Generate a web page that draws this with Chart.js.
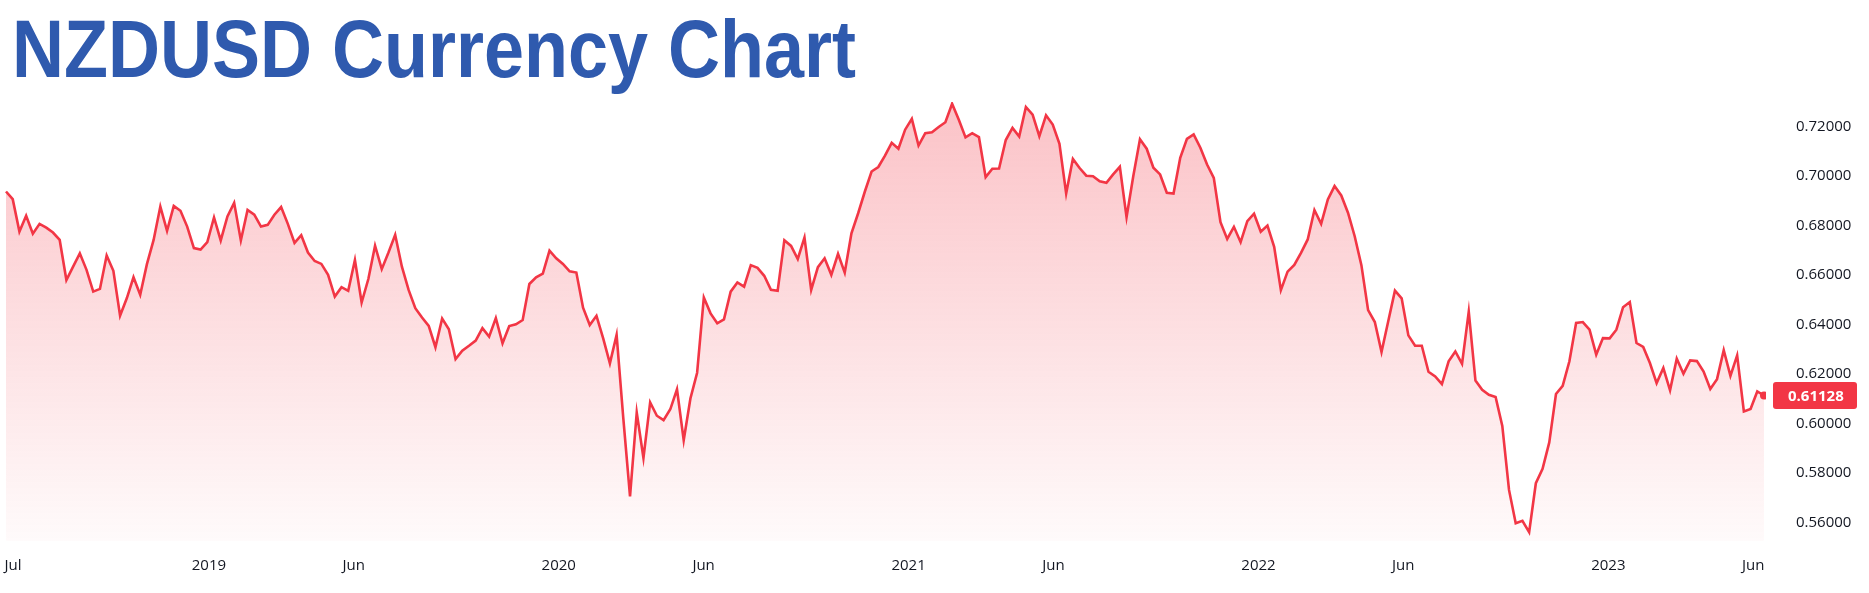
<!DOCTYPE html>
<html><head><meta charset="utf-8">
<script src="https://cdn.jsdelivr.net/npm/chart.js@4/dist/chart.umd.min.js"></script>
<style>
html,body{margin:0;padding:0;background:#fff;width:1869px;height:593px;overflow:hidden}
#title{position:absolute;left:12px;top:1px;font-family:"Liberation Sans",Arial,sans-serif;font-weight:bold;color:#2f5aae;font-size:82px;line-height:96px;white-space:nowrap;transform-origin:0 0;z-index:2}
#wrap{position:absolute;left:0;top:0;width:1869px;height:593px}
</style></head><body>
<div id="title">NZDUSD Currency Chart</div>
<div id="wrap"><canvas id="c"></canvas></div>
<script>
const seriesName = "NZDUSD";
const prices = [
0.6938,0.6907,0.6776,0.6840,0.6767,0.6807,0.6792,0.6772,0.6742,0.6580,0.6634,0.6688,0.6621,0.6533,0.6544,0.6679,0.6617,0.6436,0.6506,0.6591,
0.6520,0.6644,0.6742,0.6877,0.6779,0.6880,0.6860,0.6796,0.6709,0.6703,0.6733,0.6833,0.6740,0.6837,0.6892,0.6740,0.6863,0.6844,0.6796,0.6803,
0.6844,0.6875,0.6807,0.6730,0.6761,0.6691,0.6657,0.6645,0.6601,0.6513,0.6551,0.6536,0.6661,0.6489,0.6584,0.6719,0.6624,0.6691,0.6763,0.6634,
0.6540,0.6466,0.6428,0.6394,0.6308,0.6424,0.6381,0.6260,0.6294,0.6314,0.6335,0.6385,0.6351,0.6426,0.6324,0.6394,
0.6401,0.6418,0.6564,0.6591,0.6606,0.6699,0.6668,0.6645,0.6615,0.6610,0.6468,0.6398,0.6435,0.6344,0.6243,0.6358,0.6020,0.5705,0.6044,0.5860,
0.6085,0.6031,0.6013,0.6057,0.6138,0.5932,0.6101,0.6205,0.6509,0.6445,0.6405,0.6421,0.6533,0.6570,0.6553,0.6640,0.6629,0.6597,0.6540,0.6536,
0.6741,0.6718,0.6665,0.6752,0.6540,0.6632,0.6668,0.6601,0.6686,0.6610,0.6769,0.6850,0.6938,0.7019,0.7037,0.7083,0.7135,0.7111,0.7188,0.7232,
0.7124,0.7174,0.7178,0.7199,0.7218,0.7293,0.7228,0.7157,0.7174,0.7158,0.6996,0.7030,
0.7031,0.7146,0.7195,0.7160,0.7280,0.7249,0.7162,0.7246,0.7209,0.7131,0.6930,0.7070,0.7033,0.7002,0.7000,0.6979,0.6973,0.7007,0.7038,0.6834,
0.7000,0.7149,0.7111,0.7034,0.7007,0.6933,0.6930,0.7074,0.7151,0.7169,0.7115,0.7047,0.6993,0.6814,0.6746,0.6795,0.6733,0.6818,0.6848,0.6775,
0.6800,0.6714,0.6539,0.6614,0.6641,0.6690,0.6744,0.6863,0.6807,0.6906,0.6960,0.6922,0.6852,0.6757,0.6640,0.6458,0.6410,0.6289,0.6413,0.6537,
0.6506,0.6356,0.6314,0.6314,0.6209,
0.6190,0.6159,0.6251,0.6291,0.6241,0.6452,0.6173,0.6136,0.6116,0.6107,0.5990,0.5731,0.5596,0.5606,0.5560,0.5758,0.5816,0.5923,0.6119,0.6152,
0.6251,0.6406,0.6410,0.6379,0.6278,0.6345,0.6344,0.6379,0.6470,0.6491,0.6325,0.6309,0.6244,0.6163,0.6224,0.6134,0.6262,0.6201,0.6255,0.6252,
0.6210,0.6139,0.6179,0.6296,0.6192,0.6275,0.6048,0.6058,0.6129,0.61128
];
const startYear = 2018.42, endYear = 2023.445;
const xTickYears = [2018.44, 2019.0, 2019.414, 2020.0, 2020.414, 2021.0, 2021.414, 2022.0, 2022.414, 2023.0, 2023.414];
const xTickLabels = ["Jul","2019","Jun","2020","Jun","2021","Jun","2022","Jun","2023","Jun"];
const yTicks = [0.56,0.58,0.60,0.62,0.64,0.66,0.68,0.70,0.72];
const fillBase = 0.5525;

const n = prices.length;
const toIdx = yr => (yr - startYear) / (endYear - startYear) * (n - 1);
const data = prices.map((v,i)=>({x:i,y:v}));
const RED = '#f23645';

const t = document.getElementById('title');
const w = t.getBoundingClientRect().width;
t.style.transform = 'scaleX(' + (844 / w) + ')';

const badge = {
  id:'badge',
  afterDatasetsDraw(chart){
    const {ctx, scales:{y}} = chart;
    const v = prices[n-1];
    const py = y.getPixelForValue(v);
    ctx.save();
    ctx.fillStyle = RED;
    const bx = 1773, bw = 84, bh = 27;
    ctx.beginPath();
    ctx.roundRect(bx, py - bh/2, bw, bh, 3);
    ctx.fill();
    ctx.fillStyle = '#fff';
    ctx.font = 'bold 15px "Open Sans", sans-serif';
    ctx.textBaseline = 'middle';
    ctx.textAlign = 'left';
    ctx.fillText(v.toFixed(5), 1788, py + 1);
    ctx.restore();
  }
};

new Chart(document.getElementById('c'), {
  type:'line',
  data:{datasets:[{
    label: seriesName,
    data,
    borderColor: RED,
    borderWidth: 2.6,
    tension: 0,
    pointRadius: ctx => ctx.dataIndex === n-1 ? 4 : 0,
    pointBackgroundColor: RED,
    pointBorderWidth: 0,
    fill: {value: fillBase},
    backgroundColor: ctx => {
      const ca = ctx.chart.chartArea;
      if (!ca) return 'rgba(242,54,69,0.15)';
      const g = ctx.chart.ctx.createLinearGradient(0, ca.top, 0, ca.bottom);
      g.addColorStop(0, 'rgba(242,54,69,0.30)');
      g.addColorStop(1, 'rgba(242,54,69,0.02)');
      return g;
    }
  }]},
  options:{
    responsive:true, maintainAspectRatio:false, animation:false,
    layout:{padding:{left:0,right:0,top:102,bottom:0}},
    plugins:{legend:{display:false},tooltip:{enabled:false}},
    scales:{
      x:{type:'linear', min:-0.3, max:n-1+0.3,
        grid:{display:false}, border:{display:false},
        afterBuildTicks: s => { s.ticks = xTickYears.map(yr=>({value:toIdx(yr)})); },
        afterFit: s => { s.height = 46; },
        ticks:{autoSkip:false, maxRotation:0, padding:2, color:'#131722',
          font:{family:'"Open Sans", sans-serif', size:15},
          callback:(v,i)=>xTickLabels[i]}
      },
      y:{position:'right', min:0.55, max:0.73,
        grid:{display:false}, border:{display:false},
        afterBuildTicks: s => { s.ticks = yTicks.map(v=>({value:v})); },
        afterFit: s => { s.width = 103; },
        ticks:{padding:22, crossAlign:'near', color:'#131722',
          font:{family:'"Open Sans", sans-serif', size:15},
          callback:v=>v.toFixed(5)}
      }
    }
  },
  plugins:[badge]
});
</script>
</body></html>
